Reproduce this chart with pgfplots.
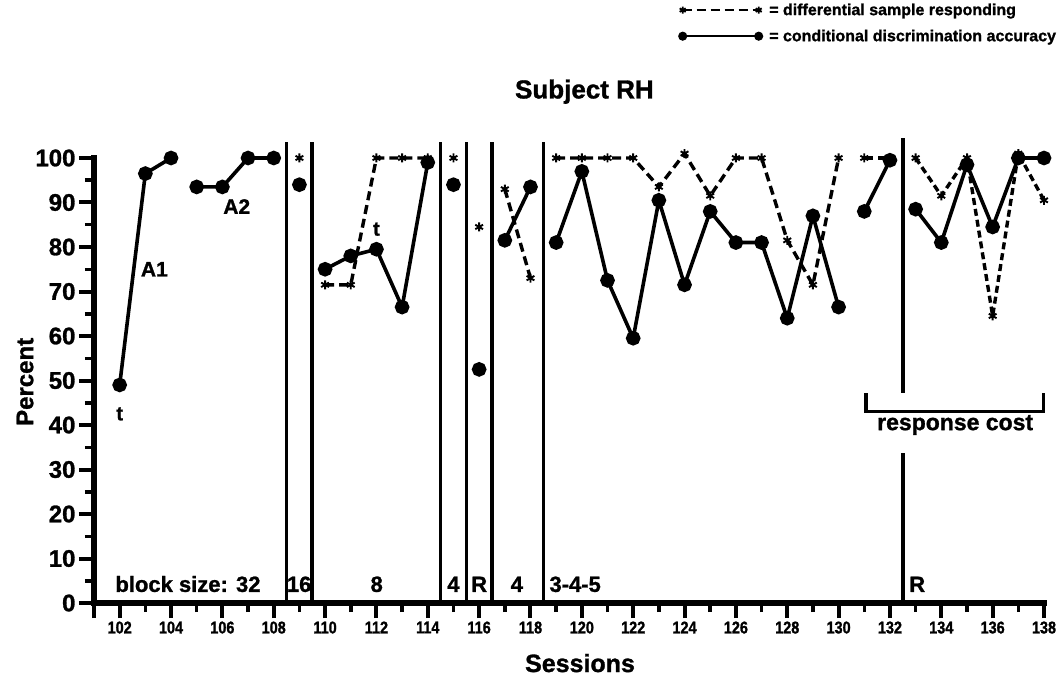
\documentclass[border=0pt]{standalone}
\usepackage{fontspec}
\setmainfont{Liberation Sans}[BoldFeatures={FakeBold=1.2}]
\newfontfamily\condfont[FakeStretch=0.85, BoldFeatures={FakeBold=1.2}]{Liberation Sans}
\usepackage{pgfplots}
\pgfplotsset{compat=1.18}
\begin{document}
\begin{tikzpicture}
\useasboundingbox (-94pt,-83pt) rectangle (968pt,603pt);
\begin{axis}[
  at={(0pt,0pt)}, anchor=south west,
  scale only axis, width=950pt, height=445pt,
  xmin=101, xmax=138, ymin=0, ymax=100,
  clip=false,
  axis x line=bottom, axis y line=left,
  axis line style={-, line width=5.5pt, line cap=rect},
  xtick={102,104,...,138}, minor xtick={103,105,...,137},
  extra x ticks={101}, extra x tick labels={},
  ytick={0,10,...,100}, minor ytick={5,15,...,95},
  tick align=outside, major tick length=15pt, minor tick length=9pt,
  every tick/.append style={line width=4pt, black},
  every minor tick/.append style={line width=3.5pt, black},
  /pgf/number format/assume math mode=true,
  xticklabel style={font=\condfont\bfseries\fontsize{17}{19}\selectfont},
  yticklabel style={font=\bfseries\fontsize{24}{26}\selectfont},
  xlabel={Sessions}, ylabel={Percent},
  xlabel style={at={(axis description cs:0.5116,-0.135)}, anchor=center, font=\bfseries\fontsize{25}{27}\selectfont},
  ylabel style={at={(axis description cs:-0.0726,0.497)}, anchor=center, font=\bfseries\fontsize{24}{26}\selectfont},
  legend style={at={(axis description cs:0.6158,1.352)}, anchor=north west, draw=none, fill=none, inner sep=0pt,
    font=\bfseries\fontsize{16}{18}\selectfont, row sep=9pt},
  legend cell align=left,
  legend image code/.code={\draw[#1, line width=2pt, mark size=3.5pt] plot coordinates {(0pt,0pt) (76pt,0pt)};},
  acc/.style={black, line width=3.6pt, mark=*, mark size=5.5pt, mark options={solid}},
  dsr/.style={black, line width=3.4pt, dash pattern=on 9pt off 5pt, mark=asterisk, mark size=4.5pt, mark options={solid, line width=1.9pt}},
  sep/.style={black, line width=3.5pt, forget plot},
]
% legend entries
\addplot[dsr] coordinates {(110,71.5) (111,71.5) (112,100) (113,100) (114,100)};
\addlegendentry{\hspace*{5pt}= differential sample responding}
\addplot[acc] coordinates {(102,49) (103,96.5) (104,100)};
\addlegendentry{\hspace*{5pt}= conditional discrimination accuracy}
% accuracy (solid)
\addplot[acc, forget plot] coordinates {(105,93.5) (106,93.5) (107,100) (108,100)};
\addplot[acc, forget plot] coordinates {(109,94)};
\addplot[acc, forget plot] coordinates {(110,75) (111,78) (112,79.5) (113,66.5) (114,99)};
\addplot[acc, forget plot] coordinates {(115,94)};
\addplot[acc, forget plot] coordinates {(116,52.5)};
\addplot[acc, forget plot] coordinates {(117,81.5) (118,93.5)};
\addplot[acc, forget plot] coordinates {(119,81) (120,97) (121,72.5) (122,59.5) (123,90.5) (124,71.5) (125,88) (126,81) (127,81) (128,64) (129,87) (130,66.5)};
\addplot[acc, forget plot] coordinates {(131,88) (132,99.5)};
\addplot[acc, forget plot] coordinates {(133,88.5) (134,81) (135,98.5) (136,84.5) (137,100) (138,100)};
% differential sample responding (dashed)
\addplot[dsr, forget plot] coordinates {(109,100)};
\addplot[dsr, forget plot] coordinates {(115,100)};
\addplot[dsr, forget plot] coordinates {(116,84.5)};
\addplot[dsr, forget plot] coordinates {(117,93) (118,73)};
\addplot[dsr, forget plot] coordinates {(119,100) (120,100) (121,100) (122,100) (123,93.5) (124,101) (125,91.5) (126,100) (127,100) (128,81.5) (129,71.5) (130,100)};
\addplot[dsr, forget plot] coordinates {(131,100) (132,100)};
\addplot[dsr, forget plot, dash pattern=on 7pt off 4pt] coordinates {(133,100) (134,91.5) (135,100) (136,64.5) (137,101) (138,90.5)};
% phase separators
\addplot[sep] coordinates {(108.5,0) (108.5,103.5)};
\addplot[sep] coordinates {(109.5,0) (109.5,103.5)};
\addplot[sep] coordinates {(114.5,0) (114.5,103.5)};
\addplot[sep] coordinates {(115.5,0) (115.5,103.5)};
\addplot[sep] coordinates {(116.5,0) (116.5,103.5)};
\addplot[sep] coordinates {(118.5,0) (118.5,103.5)};
\addplot[sep] coordinates {(132.5,0) (132.5,33.8)};
\addplot[sep] coordinates {(132.5,47.3) (132.5,104.4)};
% response cost bracket
\addplot[sep] coordinates {(131.07,47.1) (131.07,43) (137.98,43) (137.98,47.1)};
% annotations
\node[font=\bfseries\fontsize{26}{30}\selectfont] at (axis cs:120.1,114.9) {Subject RH};
\node[font=\bfseries\fontsize{23}{26}\selectfont] at (axis cs:134.54,40) {response cost};
\node[font=\bfseries\fontsize{21}{24}\selectfont] at (axis cs:103.35,75) {A1};
\node[font=\bfseries\fontsize{21}{24}\selectfont] at (axis cs:106.56,89.1) {A2};
\node[font=\bfseries\fontsize{20}{22}\selectfont] at (axis cs:102,42.5) {t};
\node[font=\bfseries\fontsize{20}{22}\selectfont] at (axis cs:112,84) {t};
\begin{scope}[every node/.style={font=\bfseries\fontsize{22}{24}\selectfont, anchor=base, inner sep=0pt}]
\node at (axis cs:104.66,2.5) {block size: 32};
\node at (axis cs:108.99,2.5) {16};
\node at (axis cs:112.01,2.5) {8};
\node at (axis cs:115.0,2.5) {4};
\node at (axis cs:116.0,2.5) {R};
\node at (axis cs:117.47,2.5) {4};
\node at (axis cs:119.74,2.5) {3-4-5};
\node at (axis cs:133.06,2.5) {R};
\end{scope}
\end{axis}
\end{tikzpicture}
\end{document}
